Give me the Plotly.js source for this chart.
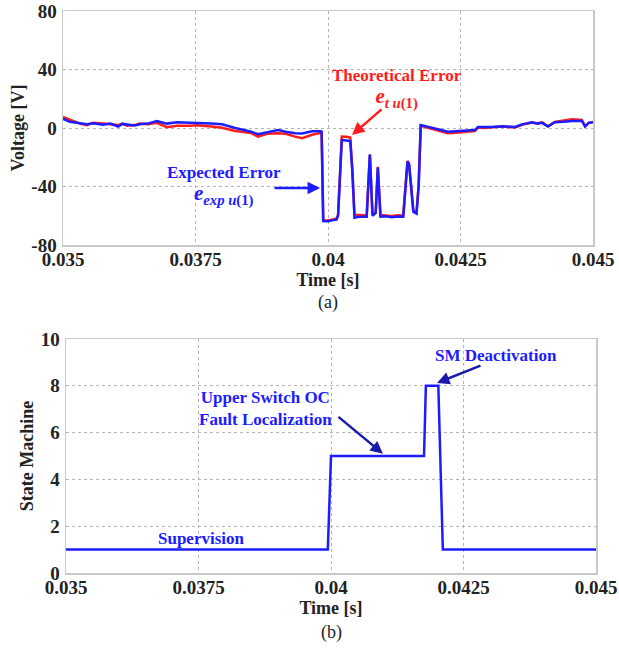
<!DOCTYPE html>
<html>
<head>
<meta charset="utf-8">
<script src="https://cdn.plot.ly/plotly-3.0.1.min.js"></script>
<style>html,body{margin:0;padding:0;background:#fff;}#chart{width:619px;height:649px;}</style>
</head>
<body>
<div id="chart"></div>
<script>
// ---- Data (a): voltage errors ----
const timeA = [0.035, 0.03513, 0.03532, 0.03545, 0.03557, 0.03575, 0.03589, 0.03604, 0.03612, 0.03621,
  0.03635, 0.03645, 0.0366, 0.03677, 0.03696, 0.03715, 0.0374, 0.03753, 0.0378, 0.038,
  0.03825, 0.03843, 0.03855, 0.03868, 0.03885, 0.03906, 0.0392, 0.03938, 0.03951, 0.0397,
  0.03985, 0.03988, 0.03991, 0.0400, 0.0401, 0.04016, 0.04019, 0.04026, 0.04035, 0.04042,
  0.04046, 0.0405, 0.0406, 0.04073, 0.04079, 0.04084, 0.0409, 0.04094, 0.04099, 0.0411,
  0.0412, 0.04132, 0.04142, 0.0415, 0.04153, 0.04158, 0.04161, 0.04167, 0.04171, 0.04175,
  0.0419, 0.04202, 0.04215, 0.04226, 0.0424, 0.04258, 0.04277, 0.04283, 0.04295, 0.04309,
  0.0433, 0.04353, 0.04366, 0.04385, 0.04395, 0.04404, 0.04415, 0.04428, 0.04445, 0.0446,
  0.04479, 0.04485, 0.04492, 0.045];
const expectedError = [6.2, 4.3, 3.2, 2.5, 3.2, 2.2, 3.0, 1.0, 2.8, 2.5,
  1.8, 2.5, 3.0, 4.8, 3.0, 4.0, 4.0, 3.5, 3.0, 2.5,
  0.0, -1.4, -2.5, -4.3, -2.8, -1.4, -2.5, -3.6, -3.8, -2.3,
  -2.3, -2.5, -63.6, -63.8, -63.0, -62.6, -60.0, -8.2, -8.5, -9.0,
  -30.0, -61.3, -60.6, -60.6, -18.0, -60.0, -58.0, -27.0, -60.6, -60.4,
  -61.0, -60.5, -60.6, -23.0, -25.0, -45.0, -57.2, -58.5, -40.0, 2.0,
  0.5, -0.7, -1.5, -2.5, -2.2, -1.9, -1.4, 0.7, 0.5, 0.7,
  1.2, 0.7, 2.5, 3.9, 3.0, 3.5, 1.0, 3.9, 4.2, 4.8,
  4.8, 1.0, 3.5, 4.0];
const theoreticalError = [7.5, 5.5, 3.0, 2.0, 3.5, 3.0, 2.5, 2.0, 3.0, 1.5,
  2.0, 3.0, 2.5, 3.5, 0.5, 1.5, 1.5, 1.8, 1.0, 0.2,
  -2.0, -2.6, -3.5, -5.9, -4.0, -3.6, -4.0, -5.9, -7.0, -4.6,
  -3.5, -4.0, -63.0, -63.2, -62.5, -62.0, -59.5, -5.9, -6.0, -6.5,
  -29.0, -59.5, -59.5, -59.8, -18.5, -59.5, -57.5, -26.5, -59.5, -59.6,
  -60.2, -59.6, -59.8, -22.5, -24.5, -44.0, -56.5, -57.8, -39.0, 1.5,
  0.0, -1.5, -2.5, -3.6, -3.2, -2.8, -2.0, 0.3, 0.0, 0.5,
  1.0, 0.3, 2.2, 3.8, 3.2, 3.8, 1.2, 4.2, 5.0, 5.9,
  5.5, 1.2, 3.5, 4.2];

// ---- Data (b): state machine ----
const timeB = [0.035, 0.03994, 0.0400, 0.041755, 0.04179, 0.042025, 0.04211, 0.045];
const stateValues = [1, 1, 5, 5, 8, 8, 1, 1];

const xTicks = [0.035, 0.0375, 0.04, 0.0425, 0.045];
const xTickText = ['0.035', '0.0375', '0.04', '0.0425', '0.045'];
const yTicksA = [-80, -40, 0, 40, 80];
const yTicksB = [0, 2, 4, 6, 8, 10];

const BLUE = '#1c1cff';
const RED = '#ff1c1c';
const FONT = 'Liberation Serif, Times New Roman, serif';
const b = (s) => '<b>' + s + '</b>';

const traces = [
  {x: timeA, y: theoreticalError, type: 'scatter', mode: 'lines', name: 'Theoretical Error',
   line: {color: RED, width: 2.5}, xaxis: 'x', yaxis: 'y'},
  {x: timeA, y: expectedError, type: 'scatter', mode: 'lines', name: 'Expected Error',
   line: {color: BLUE, width: 2.5}, xaxis: 'x', yaxis: 'y'},
  {x: timeB, y: stateValues, type: 'scatter', mode: 'lines', name: 'State Machine',
   line: {color: BLUE, width: 2.5}, xaxis: 'x2', yaxis: 'y2'}
];

const tickFont = {family: FONT, size: 19, color: '#222'};
const titleFont = {family: FONT, size: 18, color: '#222'};

function xAxis(domain, anchor) {
  return {
    domain: domain, anchor: anchor, range: [0.035, 0.045],
    tickmode: 'array', tickvals: xTicks, ticktext: xTickText.map(b),
    tickfont: tickFont, showgrid: true, gridcolor: '#b4b4b4', griddash: 'dot', gridwidth: 1,
    showline: true, linecolor: '#c8c8c8', linewidth: 1.5, mirror: true, ticks: '',
    zeroline: false, automargin: false, ticklabelstandoff: -3,
    title: {text: b('Time [s]'), font: titleFont, standoff: 3}
  };
}
function yAxis(domain, anchor, range, ticks, title, standoff) {
  return {
    domain: domain, anchor: anchor, range: range,
    tickmode: 'array', tickvals: ticks, ticktext: ticks.map(v => b(String(v))),
    tickfont: tickFont, showgrid: true, gridcolor: '#b4b4b4', griddash: 'dot', gridwidth: 1,
    showline: true, linecolor: '#c8c8c8', linewidth: 1.5, mirror: true, ticks: '',
    zeroline: false, automargin: false, ticklabelstandoff: 1,
    title: {text: b(title), font: titleFont, standoff: standoff}
  };
}

const W = 619, H = 649;
const annFont = (c) => ({family: FONT, size: 17, color: c});
function label(px, py, text, font) {
  return {xref: 'paper', yref: 'paper', x: px / W, y: 1 - py / H, text: text, showarrow: false,
          xanchor: 'center', yanchor: 'middle', font: font, align: 'center'};
}
function arrow(xr, yr, x, y, ax, ay, color) {
  return {xref: xr, yref: yr, x: x, y: y, ax: ax, ay: ay, text: '', showarrow: true,
          arrowcolor: color, arrowwidth: 2.5, arrowhead: 2, arrowsize: 1};
}
const big = (s) => '<span style="font-size:21px">' + s + '</span>';

const layout = {
  width: W, height: H,
  margin: {l: 0, r: 0, t: 0, b: 0},
  paper_bgcolor: '#fff', plot_bgcolor: '#fff',
  showlegend: false,
  xaxis: xAxis([63 / W, 593 / W], 'y'),
  yaxis: yAxis([1 - 245 / H, 1 - 11 / H], 'x', [-80, 80], yTicksA, 'Voltage [V]', 2),
  xaxis2: xAxis([66 / W, 596 / W], 'y2'),
  yaxis2: yAxis([1 - 573 / H, 1 - 339 / H], 'x2', [0, 10], yTicksB, 'State Machine', 2),
  annotations: [
    label(328, 302, '(a)', {family: FONT, size: 18, color: '#222'}),
    label(331, 632, '(b)', {family: FONT, size: 18, color: '#222'}),
    label(397, 89, b('Theoretical Error<br>' + big('<i>e</i><sub><i>t u</i>(1)</sub>')), annFont(RED)),
    arrow('x', 'y', 0.040453, -4.8, 31, -27, RED),
    label(224, 186, b('Expected Error<br>' + big('<i>e</i><sub><i>exp u</i>(1)</sub>')), annFont(BLUE)),
    arrow('x', 'y', 0.03985, -41, -47, 0, BLUE),
    label(265, 408, b('Upper Switch OC<br>Fault Localization'), annFont(BLUE)),
    arrow('x2', 'y2', 0.04098, 5.1, -46, -38, '#1a1aaa'),
    label(496, 355, b('SM Deactivation'), annFont(BLUE)),
    arrow('x2', 'y2', 0.0420, 8.12, 45, -18, '#1a1aaa'),
    label(201, 538, b('Supervision'), annFont(BLUE))
  ]
};

Plotly.newPlot('chart', traces, layout, {staticPlot: true, displayModeBar: false});
</script>
</body>
</html>
